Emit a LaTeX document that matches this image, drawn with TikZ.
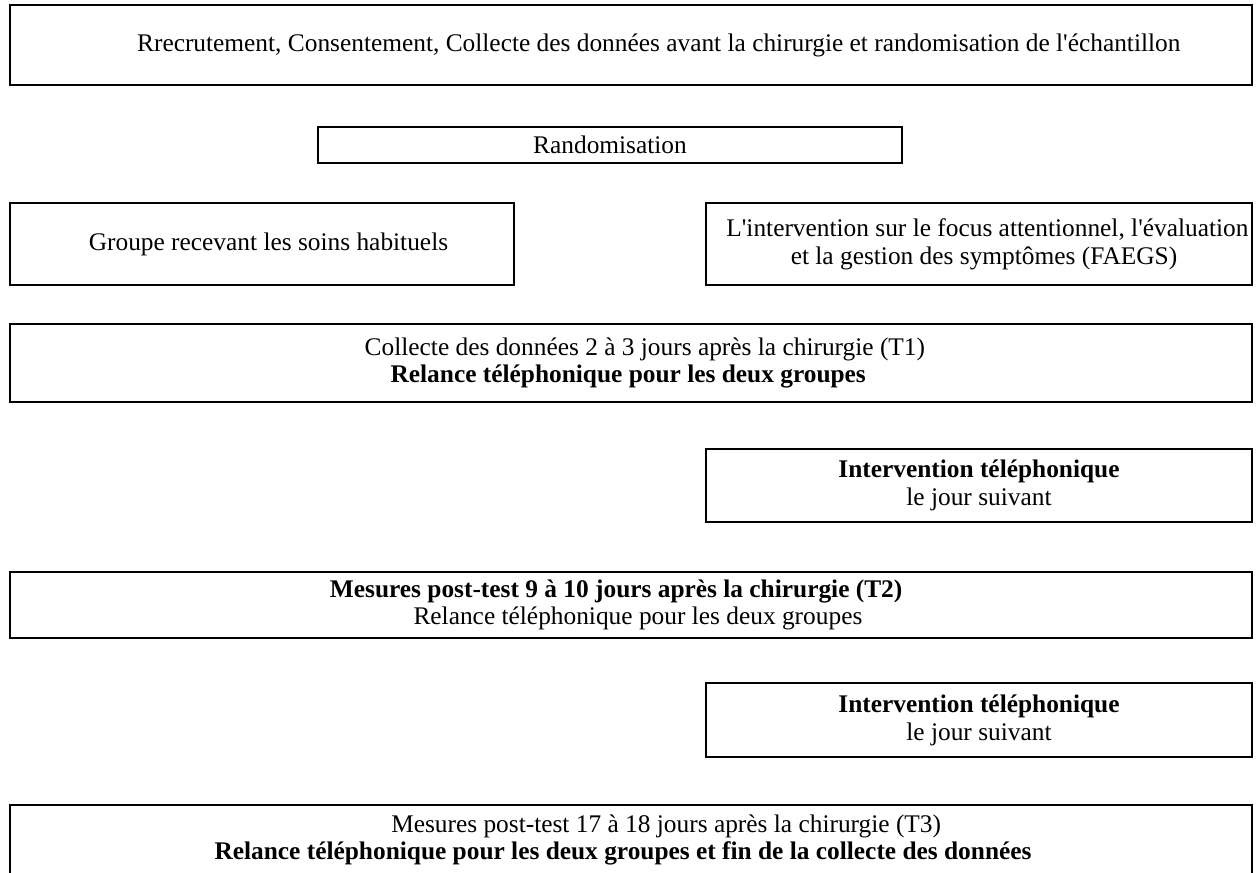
\documentclass[tikz,border=0pt]{standalone}
\usepackage{fontspec}
\setmainfont{Liberation Serif}[Ligatures=TeXOff]
\usetikzlibrary{positioning}

\begin{document}
\begin{tikzpicture}[
			x = 0.54pt,
			y = -0.54pt,
			etape/.style = {rectangle, draw, line width = 0.8pt, align = center, inner sep = 0pt, font = \fontsize{13.7}{15}\selectfont},
			large/.style = {etape, minimum width = 670.7pt},
			half/.style = {etape, minimum width = 294.8pt}
		]
		\useasboundingbox (0,0) rectangle (1256,873);
		% etapes communes
		\node[large, minimum height = 43.2pt] (recrutement) at (631,45) {\hspace*{30pt}Rrecrutement, Consentement, Collecte des données avant la chirurgie et randomisation de l'échantillon};
		\node[etape, minimum width = 315.4pt, minimum height = 19.4pt] (randomisation) at (610,145) {Randomisation};
		% les deux groupes
		\node[etape, minimum width = 272.2pt, minimum height = 44.3pt] (habituels) at (262,244) {\hspace*{7pt}Groupe recevant les soins habituels};
		\node[half, minimum height = 44.3pt] (faegs) at (979,244) {\makebox[294.8pt][l]{\hspace*{11pt}L'intervention sur le focus attentionnel, l'évaluation}\\\hspace*{5.4pt}et la gestion des symptômes (FAEGS)};
		% suivi
		\node[large, minimum height = 42.1pt] (tun) at (631,363) {\hspace*{15pt}Collecte des données 2 à 3 jours après la chirurgie (T1)\\\hspace*{-3pt}\textbf{Relance téléphonique pour les deux groupes}};
		\node[half, minimum height = 39.4pt] (appelun) at (979,485.5) {\textbf{Intervention téléphonique}\\le jour suivant};
		\node[large, minimum height = 35.6pt] (tdeux) at (631,605) {\hspace*{-16pt}\textbf{Mesures post-test 9 à 10 jours après la chirurgie (T2)}\\\hspace*{7.5pt}Relance téléphonique pour les deux groupes};
		\node[half, minimum height = 40pt] (appeldeux) at (979,720) {\textbf{Intervention téléphonique}\\le jour suivant};
		\node[large, minimum height = 37.8pt] (ttrois) at (631,840) {\hspace*{38pt}Mesures post-test 17 à 18 jours après la chirurgie (T3)\\\hspace*{-8.6pt}\textbf{Relance téléphonique pour les deux groupes et fin de la collecte des données}};
	\end{tikzpicture}
\end{document}
